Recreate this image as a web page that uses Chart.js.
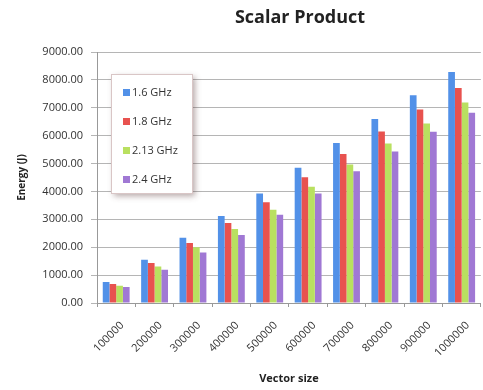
<!DOCTYPE html>
<html>
<head>
<meta charset="utf-8">
<script src="https://cdn.jsdelivr.net/npm/chart.js@4"></script>
<style>
  html, body { margin: 0; padding: 0; background: #fff; }
  #wrap { width: 483px; height: 390px; }
</style>
</head>
<body>
<div id="wrap"><canvas id="chart" width="483" height="390"></canvas></div>
<script>
const vectorSizes = ["100000", "200000", "300000", "400000", "500000", "600000", "700000", "800000", "900000", "1000000"];
const ghz16 = [750, 1550, 2340, 3120, 3930, 4850, 5740, 6600, 7450, 8280];
const ghz18 = [680, 1430, 2150, 2870, 3610, 4510, 5340, 6150, 6940, 7710];
const ghz213 = [620, 1310, 2000, 2650, 3340, 4170, 4970, 5720, 6440, 7190];
const ghz24 = [570, 1190, 1810, 2440, 3160, 3930, 4720, 5430, 6140, 6820];
const seriesNames = ["1.6 GHz", "1.8 GHz", "2.13 GHz", "2.4 GHz"];
const seriesColors = ["#5291e8", "#e8524f", "#b9e060", "#a078d4"];

const FONT = "'Open Sans', 'DejaVu Sans', sans-serif";

// title + boxed legend drawn by hand, the original has them in odd spots
const decorPlugin = {
  id: "decor",
  afterDraw(chart) {
    const c = chart.ctx;
    c.save();
    c.fillStyle = "#222";
    c.font = "bold 18px " + FONT;
    c.textAlign = "center";
    c.textBaseline = "middle";
    c.fillText("Scalar Product", 300, 18);

    // legend box
    const bx = 111, by = 74, bw = 81, bh = 119;
    c.shadowColor = "rgba(90,60,60,0.45)";
    c.shadowBlur = 6;
    c.shadowOffsetX = 3;
    c.shadowOffsetY = 3;
    c.fillStyle = "#fff";
    c.fillRect(bx, by, bw, bh);
    c.shadowColor = "transparent";
    c.strokeStyle = "#d9c6c6";
    c.lineWidth = 1;
    c.strokeRect(bx + 0.5, by + 0.5, bw, bh);

    c.font = "11px " + FONT;
    c.textAlign = "left";
    const ys = [93, 122, 151, 180];
    chart.data.datasets.forEach((ds, i) => {
      c.fillStyle = ds.backgroundColor;
      c.fillRect(123, ys[i] - 4, 7, 7);
      c.fillStyle = "#333";
      c.fillText(ds.label, 132, ys[i]);
    });
    c.restore();
  },
};

const ctx = document.getElementById("chart").getContext("2d");
new Chart(ctx, {
  type: "bar",
  data: {
    labels: vectorSizes,
    datasets: [ghz16, ghz18, ghz213, ghz24].map((vals, i) => ({
      label: seriesNames[i],
      data: vals,
      backgroundColor: seriesColors[i],
      categoryPercentage: 0.7,
      barPercentage: 1.0,
    })),
  },
  options: {
    responsive: false,
    animation: false,
    layout: { padding: { top: 52, right: -4, left: 0, bottom: 0 } },
    plugins: {
      legend: { display: false },
      tooltip: { enabled: false },
    },
    scales: {
      x: {
        afterFit: (scale) => { scale.height = 87; },
        grid: { display: true, drawOnChartArea: false, offset: true, color: "#999", tickLength: 4 },
        border: { color: "#999" },
        ticks: { maxRotation: 45, minRotation: 45, color: "#333", font: { family: FONT, size: 11 }, padding: 12, labelOffset: 6 },
        title: { display: true, text: "Vector size", color: "#222", font: { family: FONT, size: 11, weight: "bold" }, padding: { top: 0, bottom: 5 } },
      },
      y: {
        afterFit: (scale) => { scale.width = 97; },
        min: 0,
        max: 9000,
        ticks: {
          stepSize: 1000,
          color: "#333",
          font: { family: FONT, size: 11 },
          padding: 8,
          callback: (v) => v.toFixed(2),
        },
        grid: { color: "#b5b5b5", tickLength: 6 },
        border: { color: "#999" },
        title: { display: true, text: "Energy (J)", color: "#222", font: { family: FONT, size: 10, weight: "bold" }, padding: { top: 16, bottom: 0 } },
      },
    },
  },
  plugins: [decorPlugin],
});
</script>
</body>
</html>
